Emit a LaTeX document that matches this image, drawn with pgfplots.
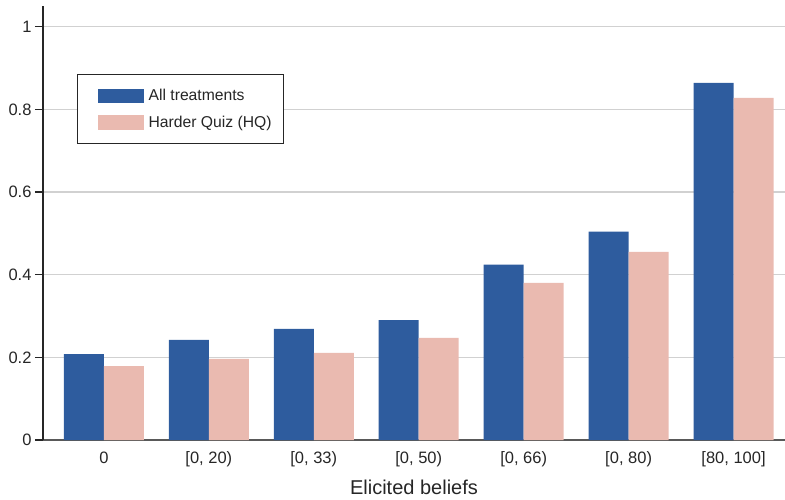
\documentclass[border=0pt]{standalone}
\usepackage{fontspec}
\setmainfont{Liberation Sans}
\usepackage{pgfplots}
\pgfplotsset{compat=1.18}
\definecolor{blueb}{HTML}{2E5C9E}
\definecolor{pinkb}{HTML}{EABAB0}
\begin{document}
\begin{tikzpicture}
\begin{axis}[
  scale only axis, width=742bp, height=434bp,
  xmin=-0.58, xmax=6.49, ymin=0, ymax=1.05,
  axis x line*=bottom, axis y line*=left,
  x axis line style={draw=black!65, line width=1.6bp},
  y axis line style={draw=black!85, line width=1.2bp},
  xtick={0,1,2,3,4,5,6},
  xticklabels={0,{[0, 20)},{[0, 33)},{[0, 50)},{[0, 66)},{[0, 80)},{[80, 100]}},
  x tick style={draw=none},
  ytick={0,0.2,0.4,0.6,0.8,1},
  yticklabels={0,0.2,0.4,0.6,0.8,1},
  y tick style={draw=black!85, line width=1.2bp},
  major tick length=8bp, tick align=outside,
  ymajorgrids, grid style={draw=black!18, line width=1.3bp},
  tick label style={font=\fontsize{16.5bp}{19bp}\selectfont, text=black!85},
  xlabel={Elicited beliefs},
  xlabel style={font=\fontsize{20bp}{24bp}\selectfont, text=black!85, yshift=-6bp},
  legend style={at={(0.046,0.843)}, anchor=north west, draw=black!85, line width=1bp,
    font=\fontsize{15.7bp}{18bp}\selectfont, text=black!85,
    inner xsep=12bp, inner ysep=14bp, row sep=12bp, column sep=5bp,
    nodes={inner sep=0pt}},
  legend cell align=left,
  legend image code/.code={\path (0bp,0bp); \path[#1] (8bp,-7.3bp) rectangle (54bp,7.3bp);},
]
\addplot[ybar, bar width=40bp, bar shift=-20bp, fill=blueb, draw=none]
  coordinates {(0,0.208) (1,0.242) (2,0.269) (3,0.290) (4,0.424) (5,0.504) (6,0.864)};
\addlegendentry{All treatments}
\addplot[ybar, bar width=40bp, bar shift=20bp, fill=pinkb, draw=none]
  coordinates {(0,0.179) (1,0.196) (2,0.211) (3,0.247) (4,0.380) (5,0.455) (6,0.828)};
\addlegendentry{Harder Quiz (HQ)}
\end{axis}
\pgfresetboundingbox
\path ([xshift=-43bp,yshift=-60bp]current axis.south west) rectangle ([yshift=6bp]current axis.north east);
\end{tikzpicture}
\end{document}
